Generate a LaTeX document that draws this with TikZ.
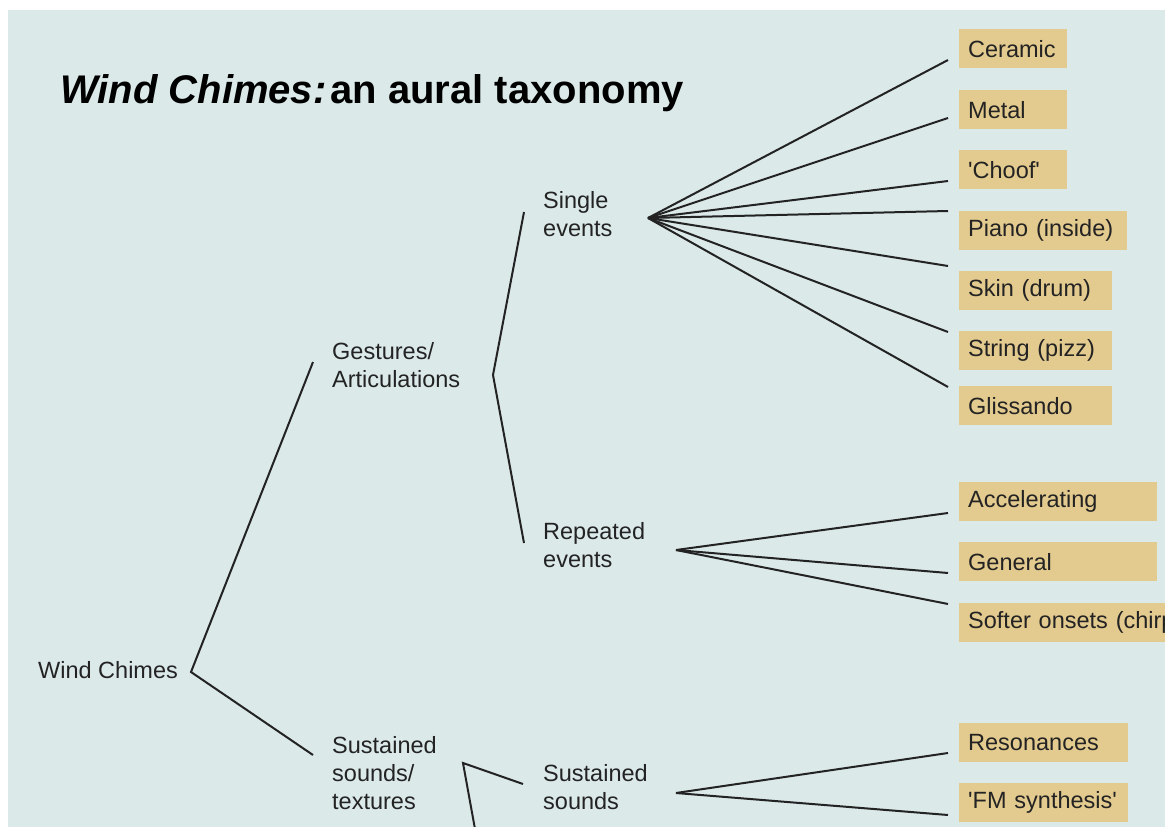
\documentclass[tikz,border=0pt]{standalone}
\usepackage{fontspec}
\setmainfont{Liberation Sans}
\usepackage{tikz}
\definecolor{chimebg}{RGB}{220,233,233}
\definecolor{leaftan}{RGB}{227,202,143}
\definecolor{inkgray}{RGB}{35,35,35}

\begin{document}
\begin{tikzpicture}[x=1pt, y=-1pt,
    label/.style={anchor=west, inner sep=0pt, align=left, text=inkgray,
      font=\fontsize{23.5}{28}\selectfont},
    leaf/.style={anchor=north west, fill=leaftan, inner xsep=9pt, inner ysep=0pt,
      minimum height=39pt, text width=#1, align=left, text=inkgray,
      font=\fontsize{23.5}{28}\selectfont},
    branch/.style={draw=inkgray, line width=2pt}]

   \fill[white] (0,0) rectangle (1165,827);
   \useasboundingbox (0,0) rectangle (1165,827);
   \fill[chimebg] (8,10) rectangle (1165,827);
   \clip (0,0) rectangle (1165,827);

   \node[anchor=base west, inner sep=0pt, font=\fontsize{40}{46}\selectfont\bfseries] (title) at (60,103)
      {\textit{Wind Chimes:}\hspace{4pt}an aural taxonomy};

   \node[label] (root) at (38,670) {Wind Chimes};
   \node[label] (gest) at (332,365) {Gestures/\\Articulations};
   \node[label] (sust) at (332,773) {Sustained\\sounds/\\textures};
   \node[label] (single) at (543,214) {Single\\events};
   \node[label] (rep) at (543,545) {Repeated\\events};
   \node[label] (sussnd) at (543,787) {Sustained\\sounds};

   \node[leaf=90pt] (cer) at (959,29) {Ceramic};
   \node[leaf=90pt] (met) at (959,90) {Metal};
   \node[leaf=90pt] (cho) at (959,150) {\textquotesingle Choof\textquotesingle};
   \node[leaf=150pt] (pia) at (959,211) {Piano (inside)};
   \node[leaf=135pt] (ski) at (959,271) {Skin (drum)};
   \node[leaf=135pt] (str) at (959,331) {String (pizz)};
   \node[leaf=135pt] (gli) at (959,386) {Glissando};
   \node[leaf=180pt] (acc) at (959,482) {Accelerating};
   \node[leaf=180pt] (gen) at (959,542) {General};
   \node[leaf=240pt] (sof) at (959,603) {Softer onsets (chirp};
   \node[leaf=151pt] (res) at (959,723) {Resonances};
   \node[leaf=151pt] (fm) at (959,783) {\textquotesingle FM synthesis\textquotesingle};

   \coordinate (root-r) at (191,672);
   \coordinate (gest-l) at (313,362);
   \coordinate (sust-l) at (313,755);
   \coordinate (gest-r) at (493,375);
   \coordinate (single-l) at (524,212);
   \coordinate (rep-l) at (524,543);
   \coordinate (single-r) at (648,218);
   \coordinate (rep-r) at (676,550);
   \coordinate (sust-r) at (463,763);
   \coordinate (sussnd-l) at (523,784);
   \coordinate (sust-down) at (477,840);
   \coordinate (sussnd-r) at (676,793);

   \coordinate (cer-l) at (948,60);
   \coordinate (met-l) at (948,118);
   \coordinate (cho-l) at (948,181);
   \coordinate (pia-l) at (948,211);
   \coordinate (ski-l) at (948,266);
   \coordinate (str-l) at (948,332);
   \coordinate (gli-l) at (948,387);
   \coordinate (acc-l) at (948,513);
   \coordinate (gen-l) at (948,573);
   \coordinate (sof-l) at (948,604);
   \coordinate (res-l) at (948,753);
   \coordinate (fm-l) at (948,815);

   \draw[branch] (gest-l) -- (root-r) -- (sust-l);
   \draw[branch] (single-l) -- (gest-r) -- (rep-l);
   \draw[branch] (sussnd-l) -- (sust-r) -- (sust-down);

   \draw[branch] (single-r) -- (cer-l);
   \draw[branch] (single-r) -- (met-l);
   \draw[branch] (single-r) -- (cho-l);
   \draw[branch] (single-r) -- (pia-l);
   \draw[branch] (single-r) -- (ski-l);
   \draw[branch] (single-r) -- (str-l);
   \draw[branch] (single-r) -- (gli-l);

   \draw[branch] (rep-r) -- (acc-l);
   \draw[branch] (rep-r) -- (gen-l);
   \draw[branch] (rep-r) -- (sof-l);

   \draw[branch] (sussnd-r) -- (res-l);
   \draw[branch] (sussnd-r) -- (fm-l);

\end{tikzpicture}
\end{document}
